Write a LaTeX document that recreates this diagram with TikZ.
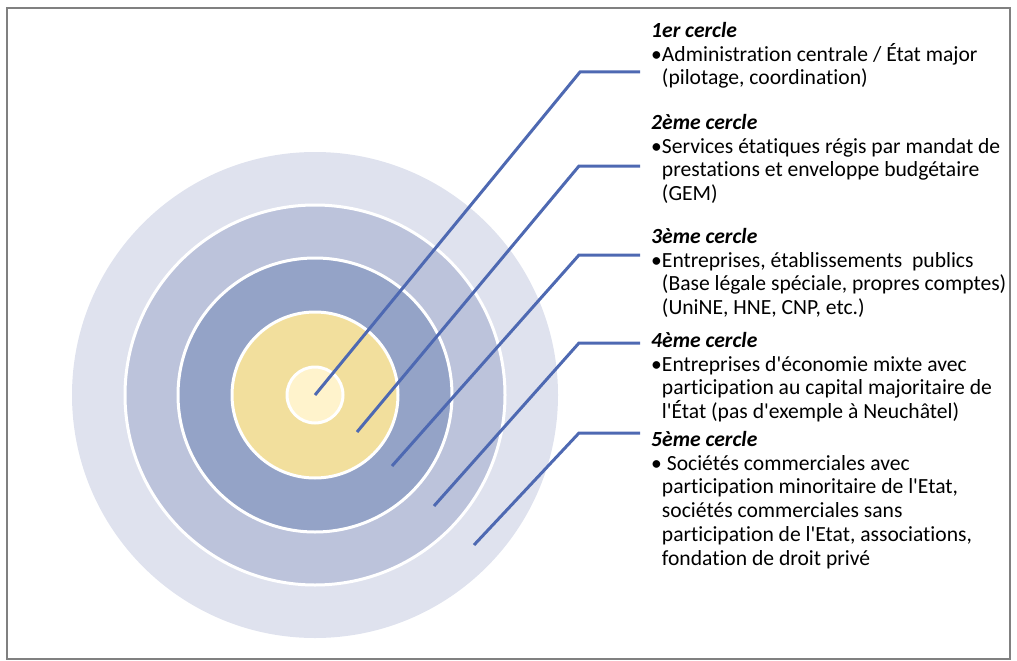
\documentclass[tikz,border=0pt]{standalone}
\usepackage{fontspec}
\setmainfont{Carlito}[Ligatures={TeXOff,NoCommon}]
\usepackage{xcolor}
\usetikzlibrary{positioning}
\definecolor{outerring}{HTML}{DFE2EE}
\definecolor{fourthring}{HTML}{BCC3DB}
\definecolor{thirdring}{HTML}{94A3C7}
\definecolor{secondring}{HTML}{F2DF9D}
\definecolor{firstring}{HTML}{FFF3CC}
\definecolor{leadblue}{HTML}{4E69B2}

\begin{document}
\begin{tikzpicture}[x=1pt,y=-1pt,
  ring/.style={draw=white,line width=3pt},
  lead/.style={draw=leadblue,line width=3pt},
  txt/.style={anchor=north west,inner sep=0pt,align=left,font=\fontsize{21.6}{23.8}\selectfont}]
\useasboundingbox (0,0) rectangle (1017,661);
\draw[gray,line width=2pt] (7,8) rectangle (1010,659);

% target
\coordinate (c) at (315,395);
\fill[outerring] (c) circle (243pt);
\filldraw[fourthring,ring] (c) circle (190pt);
\filldraw[thirdring,ring] (c) circle (137pt);
\filldraw[secondring,ring] (c) circle (83pt);
\filldraw[firstring,ring] (c) circle (28pt);

% leaders
\coordinate (s1) at (315,395);
\coordinate (s2) at (357,432);
\coordinate (s3) at (392,466);
\coordinate (s4) at (434,506);
\coordinate (s5) at (474,545);
\coordinate (k1) at (580,72);
\coordinate (k2) at (579,166);
\coordinate (k3) at (579,255);
\coordinate (k4) at (579,343);
\coordinate (k5) at (579,433);
\coordinate (e1) at (640,72);
\coordinate (e2) at (640,166);
\coordinate (e3) at (640,255);
\coordinate (e4) at (640,343);
\coordinate (e5) at (640,433);

\path[lead] (s1) -- (k1) -- (e1);
\path[lead] (s2) -- (k2) -- (e2);
\path[lead] (s3) -- (k3) -- (e3);
\path[lead] (s4) -- (k4) -- (e4);
\path[lead] (s5) -- (k5) -- (e5);

% texts
\node (t1) [txt] at (651,22) {\textbf{\textit{1er cercle}}\\
  •Administration centrale / État major\\
  \hphantom{•}(pilotage, coordination)};
\node (t2) [txt] at (651,114) {\textbf{\textit{2ème cercle}}\\
  •Services étatiques régis par mandat de\\
  \hphantom{•}prestations et enveloppe budgétaire\\
  \hphantom{•}(GEM)};
\node (t3) [txt] at (651,228) {\textbf{\textit{3ème cercle}}\\
  •Entreprises, établissements\ \ publics\\
  \hphantom{•}(Base légale spéciale, propres comptes)\\
  \hphantom{•}(UniNE, HNE, CNP, etc.)};
\node (t4) [txt] at (651,332) {\textbf{\textit{4ème cercle}}\\
  •Entreprises d'économie mixte avec\\
  \hphantom{•}participation au capital majoritaire de\\
  \hphantom{•}l'État (pas d'exemple à Neuchâtel)};
\node (t5) [txt] at (651,431) {\textbf{\textit{5ème cercle}}\\
  • Sociétés commerciales avec\\
  \hphantom{•}participation minoritaire de l'Etat,\\
  \hphantom{•}sociétés commerciales sans\\
  \hphantom{•}participation de l'Etat, associations,\\
  \hphantom{•}fondation de droit privé};
\end{tikzpicture}
\end{document}
